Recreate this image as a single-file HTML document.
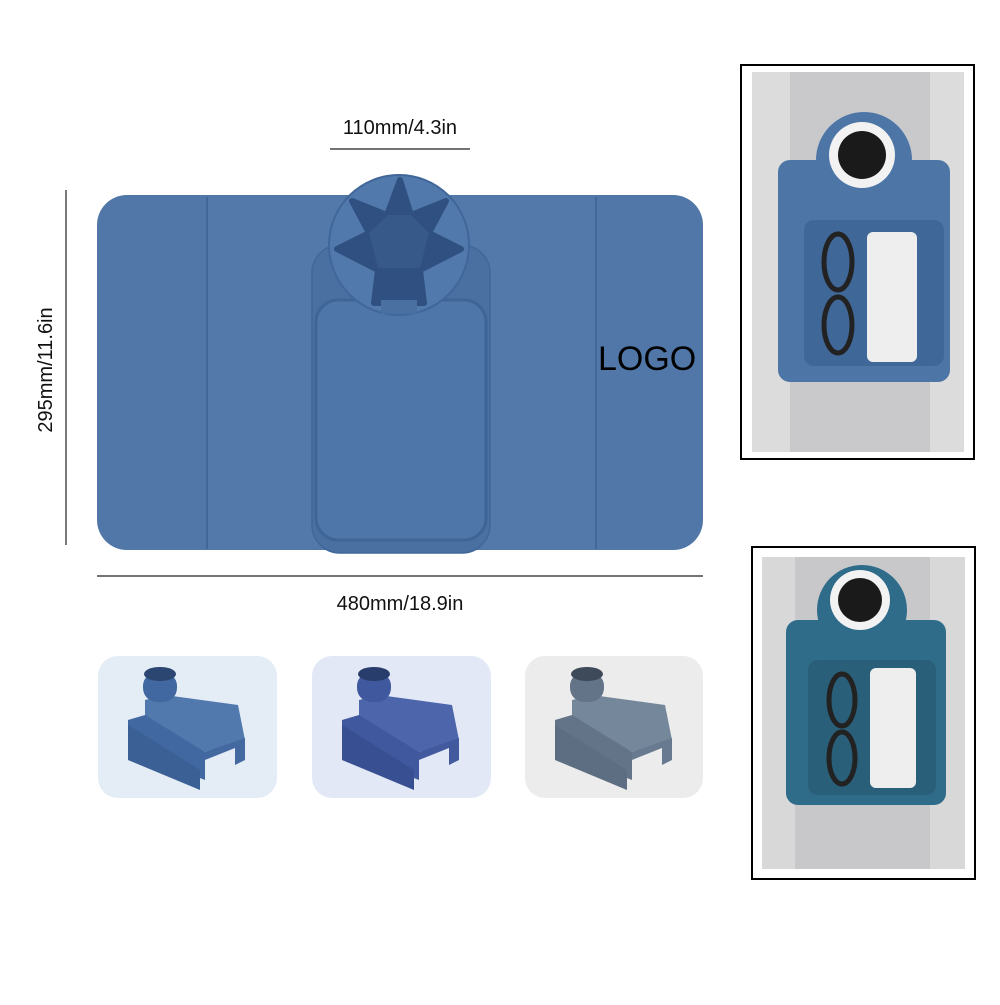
<!DOCTYPE html>
<html><head><meta charset="utf-8"><style>
html,body{margin:0;padding:0;background:#fff;}
body{width:1000px;height:1000px;position:relative;overflow:hidden;font-family:"Liberation Sans",sans-serif;}
</style></head><body>
<svg width="1000" height="1000" viewBox="0 0 1000 1000" xmlns="http://www.w3.org/2000/svg">
<line x1="330" y1="149" x2="470" y2="149" stroke="#222" stroke-width="1.2"/>
<text x="400" y="134" font-family="Liberation Sans, sans-serif" font-size="20" text-anchor="middle" fill="#111">110mm/4.3in</text>
<line x1="66" y1="190" x2="66" y2="545" stroke="#222" stroke-width="1.2"/>
<text transform="translate(52,370) rotate(-90)" font-family="Liberation Sans, sans-serif" font-size="20" text-anchor="middle" fill="#111">295mm/11.6in</text>
<line x1="97" y1="576" x2="703" y2="576" stroke="#222" stroke-width="1.2"/>
<text x="400" y="610" font-family="Liberation Sans, sans-serif" font-size="20" text-anchor="middle" fill="#111">480mm/18.9in</text>

<rect x="97" y="195" width="606" height="355" rx="30" fill="#5077a8"/>
<rect x="207" y="197" width="389" height="352" fill="#5379aa"/>
<line x1="207" y1="197" x2="207" y2="549" stroke="#42679a" stroke-width="2"/>
<line x1="596" y1="197" x2="596" y2="549" stroke="#42679a" stroke-width="2"/>
<rect x="312" y="245" width="178" height="308" rx="28" fill="#4a70a2" stroke="#41669a" stroke-width="1.5"/>
<rect x="316" y="300" width="170" height="240" rx="22" fill="#4f76a8" stroke="#3f6496" stroke-width="3"/>
<circle cx="399" cy="245" r="70" fill="#5179ab" stroke="#41679a" stroke-width="2"/>
<polygon points="400,180 411,215 446,201 429,233 461,249 420,270 424,303 374,303 378,270 337,249 369,233 352,201 387,215"
 fill="#2f5080" stroke="#2f5080" stroke-width="6" stroke-linejoin="round"/>
<polygon points="388,215 411,215 429,233 420,268 378,268 369,233" fill="#36598a"/>
<rect x="381" y="300" width="36" height="14" fill="#4a70a2"/>
<text x="598" y="370" font-family="Liberation Sans, sans-serif" font-size="34" fill="#000">LOGO</text>

<rect x="98" y="656" width="179" height="142" rx="20" fill="#e4ecf6"/>
<rect x="312" y="656" width="179" height="142" rx="20" fill="#e2e8f6"/>
<rect x="525" y="656" width="178" height="142" rx="20" fill="#ececec"/>
<g>
<polygon points="145,700 165,695 238,705 245,740 205,752 145,720" fill="#5279ad"/>
<polygon points="128,720 145,715 205,752 205,780 128,750" fill="#4168a0"/>
<polygon points="128,725 200,770 200,790 128,760" fill="#3a6096"/>
<polygon points="205,752 245,738 245,760 235,765 235,748 205,760" fill="#4468a0"/>
<rect x="143" y="672" width="34" height="30" rx="14" fill="#4168a0"/>
<ellipse cx="160" cy="674" rx="16" ry="7" fill="#2b4670"/>
</g>
<g transform="translate(214,0)">
<polygon points="145,700 165,695 238,705 245,740 205,752 145,720" fill="#4d66ab"/>
<polygon points="128,720 145,715 205,752 205,780 128,750" fill="#3f589e"/>
<polygon points="128,725 200,770 200,790 128,760" fill="#385092"/>
<polygon points="205,752 245,738 245,760 235,765 235,748 205,760" fill="#42599e"/>
<rect x="143" y="672" width="34" height="30" rx="14" fill="#3f589e"/>
<ellipse cx="160" cy="674" rx="16" ry="7" fill="#293d6c"/>
</g>
<g transform="translate(427,0)">
<polygon points="145,700 165,695 238,705 245,740 205,752 145,720" fill="#75879b"/>
<polygon points="128,720 145,715 205,752 205,780 128,750" fill="#637489"/>
<polygon points="128,725 200,770 200,790 128,760" fill="#5d6d82"/>
<polygon points="205,752 245,738 245,760 235,765 235,748 205,760" fill="#687a90"/>
<rect x="143" y="672" width="34" height="30" rx="14" fill="#637489"/>
<ellipse cx="160" cy="674" rx="16" ry="7" fill="#3e4a5a"/>
</g>

<rect x="741" y="65" width="233" height="394" fill="#fff" stroke="#000" stroke-width="2"/>
<rect x="752" y="72" width="212" height="380" fill="#dcdcdc"/>
<rect x="790" y="72" width="140" height="380" fill="#c9c9cb"/>
<rect x="778" y="160" width="172" height="222" rx="12" fill="#4d76a6"/>
<circle cx="864" cy="160" r="48" fill="#4d76a6"/>
<circle cx="862" cy="155" r="33" fill="#f2f2f2"/>
<circle cx="862" cy="155" r="24" fill="#1a1a1a"/>
<rect x="804" y="220" width="140" height="146" rx="10" fill="#3f6798"/>
<rect x="867" y="232" width="50" height="130" rx="6" fill="#eee"/>
<ellipse cx="838" cy="262" rx="14" ry="28" fill="none" stroke="#222" stroke-width="5"/>
<ellipse cx="838" cy="325" rx="14" ry="28" fill="none" stroke="#222" stroke-width="5"/>

<rect x="752" y="547" width="223" height="332" fill="#fff" stroke="#000" stroke-width="2"/>
<rect x="762" y="557" width="203" height="312" fill="#d8d8d8"/>
<rect x="795" y="557" width="135" height="312" fill="#c8c8ca"/>
<rect x="786" y="620" width="160" height="185" rx="12" fill="#2f6c8a"/>
<circle cx="862" cy="610" r="45" fill="#2f6c8a"/>
<circle cx="860" cy="600" r="30" fill="#f2f2f2"/>
<circle cx="860" cy="600" r="22" fill="#1a1a1a"/>
<rect x="808" y="660" width="128" height="135" rx="10" fill="#2a5f7a"/>
<rect x="870" y="668" width="46" height="120" rx="6" fill="#eee"/>
<ellipse cx="842" cy="700" rx="13" ry="26" fill="none" stroke="#222" stroke-width="5"/>
<ellipse cx="842" cy="758" rx="13" ry="26" fill="none" stroke="#222" stroke-width="5"/>
</svg>
</body></html>
